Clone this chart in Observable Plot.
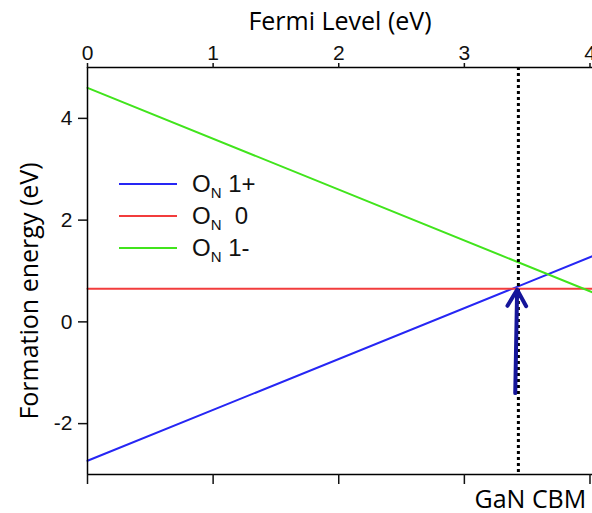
<!DOCTYPE html>
<html>
<head>
<meta charset="utf-8">
<script src="https://cdn.jsdelivr.net/npm/d3@7"></script>
<script src="https://cdn.jsdelivr.net/npm/@observablehq/plot@0.6"></script>
<style>
  body { margin: 0; background: #fff; }
  #wrap { position: relative; width: 592px; height: 513px; overflow: hidden; }
  #legend { position: absolute; left: 119px; top: 168px; font-family: "Liberation Sans", Arial, sans-serif; font-size: 24px; color: #111; }
  .row { display: flex; align-items: center; height: 32px; white-space: pre; }
  .sw { width: 58px; height: 2px; margin-right: 15px; }
  .row sub { font-size: 15px; vertical-align: -6px; line-height: 0; }
</style>
</head>
<body>
<div id="wrap"><div id="legend"></div></div>
<script>
// Data
const fermiLevel = [0, 4.02];                 // eV, x endpoints
const seriesNames = ["1+", " 0", "1-"];
const onPlus = [-2.73, 1.29];                 // formation energy (eV)
const onZero = [0.65, 0.65];
const onMinus = [4.6, 0.58];
const seriesColors = ["#2626f4", "#f23c3c", "#41e41c"];
const xTicks = [0, 1, 2, 3, 4];
const yTicks = [-2, 0, 2, 4];
const gapCBM = 3.43;                          // GaN CBM position
const arrowX = [3.405, 3.42];
const arrowY = [-1.40, 0.63];

const seriesValues = [onPlus, onZero, onMinus];
const rows = [];
seriesValues.forEach((vals, i) => {
  fermiLevel.forEach((x, j) => rows.push({series: seriesNames[i], x, y: vals[j]}));
});

const font = "'Open Sans', sans-serif";
const tickFont = "'Liberation Sans', Arial, sans-serif";
const fmt = d => String(d);

const chart = Plot.plot({
  width: 592,
  height: 513,
  marginLeft: 87,
  marginRight: 0,
  marginTop: 67,
  marginBottom: 39,
  style: {fontFamily: tickFont, fontSize: "21px", color: "#111", background: "#fff"},
  x: {domain: [0, 4.02]},
  y: {domain: [-3, 5]},
  color: {domain: seriesNames, range: seriesColors},
  marks: [
    Plot.line(rows, {x: "x", y: "y", z: "series", stroke: "series", strokeWidth: 2}),
    Plot.ruleX([gapCBM], {stroke: "#000", strokeWidth: 3, strokeDasharray: "3,3"}),
    Plot.arrow([0], {x1: () => arrowX[0], x2: () => arrowX[1], y1: () => arrowY[0], y2: () => arrowY[1],
      stroke: "#15159a", strokeWidth: 4, headLength: 7}),
    Plot.ruleX([0], {stroke: "#000", strokeWidth: 1.5}),
    Plot.ruleY([5], {stroke: "#000", strokeWidth: 1.5}),
    Plot.ruleY([-3], {stroke: "#000", strokeWidth: 1.5}),
    Plot.axisX({anchor: "top", ticks: xTicks, tickFormat: fmt, tickSize: 5, tickPadding: 3, label: null, fontSize: 21, strokeWidth: 1.5}),
    Plot.axisX({anchor: "bottom", ticks: xTicks, tickSize: 10, tickFormat: () => "", label: null, strokeWidth: 1.5}),
    Plot.axisY({anchor: "left", ticks: yTicks, tickFormat: fmt, tickSize: 9, tickPadding: 6, label: null, fontSize: 21, strokeWidth: 1.5}),
    Plot.text(["Fermi Level (eV)"], {frameAnchor: "top", lineAnchor: "middle", dy: -46, fontSize: 25, fontFamily: font, fill: "#000"}),
    Plot.text(["Formation energy (eV)"], {frameAnchor: "left", textAnchor: "middle", lineAnchor: "middle", rotate: -90, dx: -58, dy: 20, fontSize: 25, fontFamily: font, fill: "#000"}),
    Plot.text([gapCBM], {x: d => d, frameAnchor: "bottom", lineAnchor: "middle", dy: 25, dx: 12, text: () => "GaN CBM", fontSize: 25, fontFamily: font, fill: "#000"})
  ]
});
document.getElementById("wrap").prepend(chart);

const legend = document.getElementById("legend");
seriesNames.forEach((name, i) => {
  const row = document.createElement("div");
  row.className = "row";
  row.innerHTML = `<div class="sw" style="background:${seriesColors[i]}"></div><span>O<sub>N</sub> ${name}</span>`;
  legend.appendChild(row);
});
</script>
</body>
</html>
